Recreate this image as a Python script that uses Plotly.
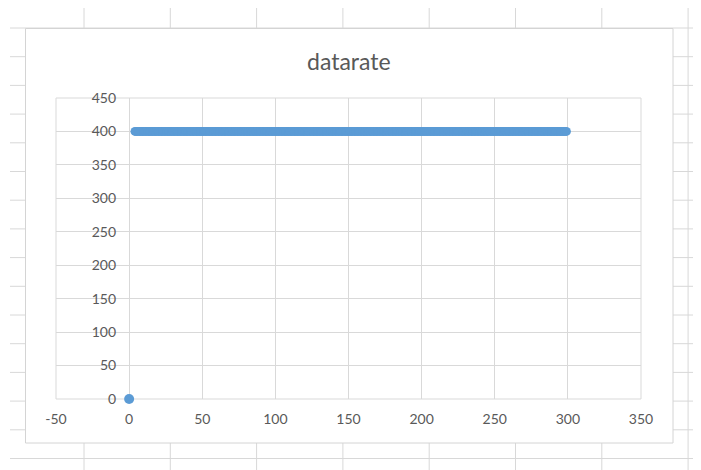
import plotly.graph_objects as go

# ---- data ----
zero_time = [0]
zero_rate = [0]
times = list(range(4, 300))
datarate = [400] * len(times)

x_ticks = [-50, 0, 50, 100, 150, 200, 250, 300, 350]
x_tick_labels = ["-50", "0", "50", "100", "150", "200", "250", "300", "350"]
y_ticks = [0, 50, 100, 150, 200, 250, 300, 350, 400, 450]
title_text = "datarate"

# ---- layout geometry (pixels; page body adds an 8px offset) ----
OFF = 8
W, H = 701 - OFF, 470 - OFF
L, R, T, B = 56 - OFF, 641 - OFF, 98 - OFF, 399 - OFF
PW, PH = R - L, B - T
BLUE = "#5b9bd5"
TXT = "#595959"
GRID = "#d9d9d9"
SHEET = "#d8d8d8"


def px(x):
    return (x - OFF - L) / PW


def py(y):
    return (B - (y - OFF)) / PH


shapes = []
# spreadsheet grid behind chart
for k in range(16):
    y = 28 + 28.7 * k
    shapes.append(dict(type="line", xref="paper", yref="paper", x0=px(10), x1=px(701),
                       y0=py(y), y1=py(y), line=dict(color=SHEET, width=1), layer="below"))
for k in range(8):
    x = 84 + 86.3 * k
    shapes.append(dict(type="line", xref="paper", yref="paper", x0=px(x), x1=px(x),
                       y0=py(8), y1=py(470), line=dict(color=SHEET, width=1), layer="below"))
# chart area
shapes.append(dict(type="rect", xref="paper", yref="paper", x0=px(25.5), x1=px(673),
                   y0=py(443), y1=py(28.5), fillcolor="white",
                   line=dict(color="#d4d4d4", width=1), layer="below"))
# plot area border
shapes.append(dict(type="rect", xref="paper", yref="paper", x0=0, x1=1, y0=0, y1=1,
                   line=dict(color=GRID, width=1), layer="below"))

fig = go.Figure()
fig.add_trace(go.Scatter(x=times, y=datarate, mode="markers", cliponaxis=False,
                         marker=dict(color=BLUE, size=9), showlegend=False))
fig.add_trace(go.Scatter(x=zero_time, y=zero_rate, mode="markers", cliponaxis=False,
                         marker=dict(color=BLUE, size=10), showlegend=False))

yaxis_pos = (0 - x_ticks[0]) / (x_ticks[-1] - x_ticks[0])

fig.update_layout(
    width=W, height=H,
    margin=dict(l=L, r=W - R, t=T, b=H - B, pad=0),
    paper_bgcolor="white",
    plot_bgcolor="rgba(0,0,0,0)",
    font=dict(family="Lato, Carlito, Calibri, sans-serif", color=TXT, size=14),
    shapes=shapes,
    annotations=[dict(text=title_text, xref="paper", yref="paper", x=0.5, y=py(61),
                      xanchor="center", yanchor="middle", showarrow=False,
                      font=dict(size=23, color=TXT))],
    xaxis=dict(range=[x_ticks[0], x_ticks[-1]], tickvals=x_ticks, ticktext=x_tick_labels,
               showgrid=True, gridcolor=GRID, gridwidth=1, zeroline=False, showline=False,
               ticks="", ticklabelstandoff=10, tickfont=dict(size=14, color=TXT)),
    yaxis=dict(range=[y_ticks[0], y_ticks[-1]], tickvals=y_ticks, showgrid=True,
               gridcolor=GRID, gridwidth=1, zeroline=False, showline=False,
               anchor="free", position=yaxis_pos, ticks="",
               ticklabelstandoff=13, tickfont=dict(size=14, color=TXT)),
)

fig.write_html("out.html")
